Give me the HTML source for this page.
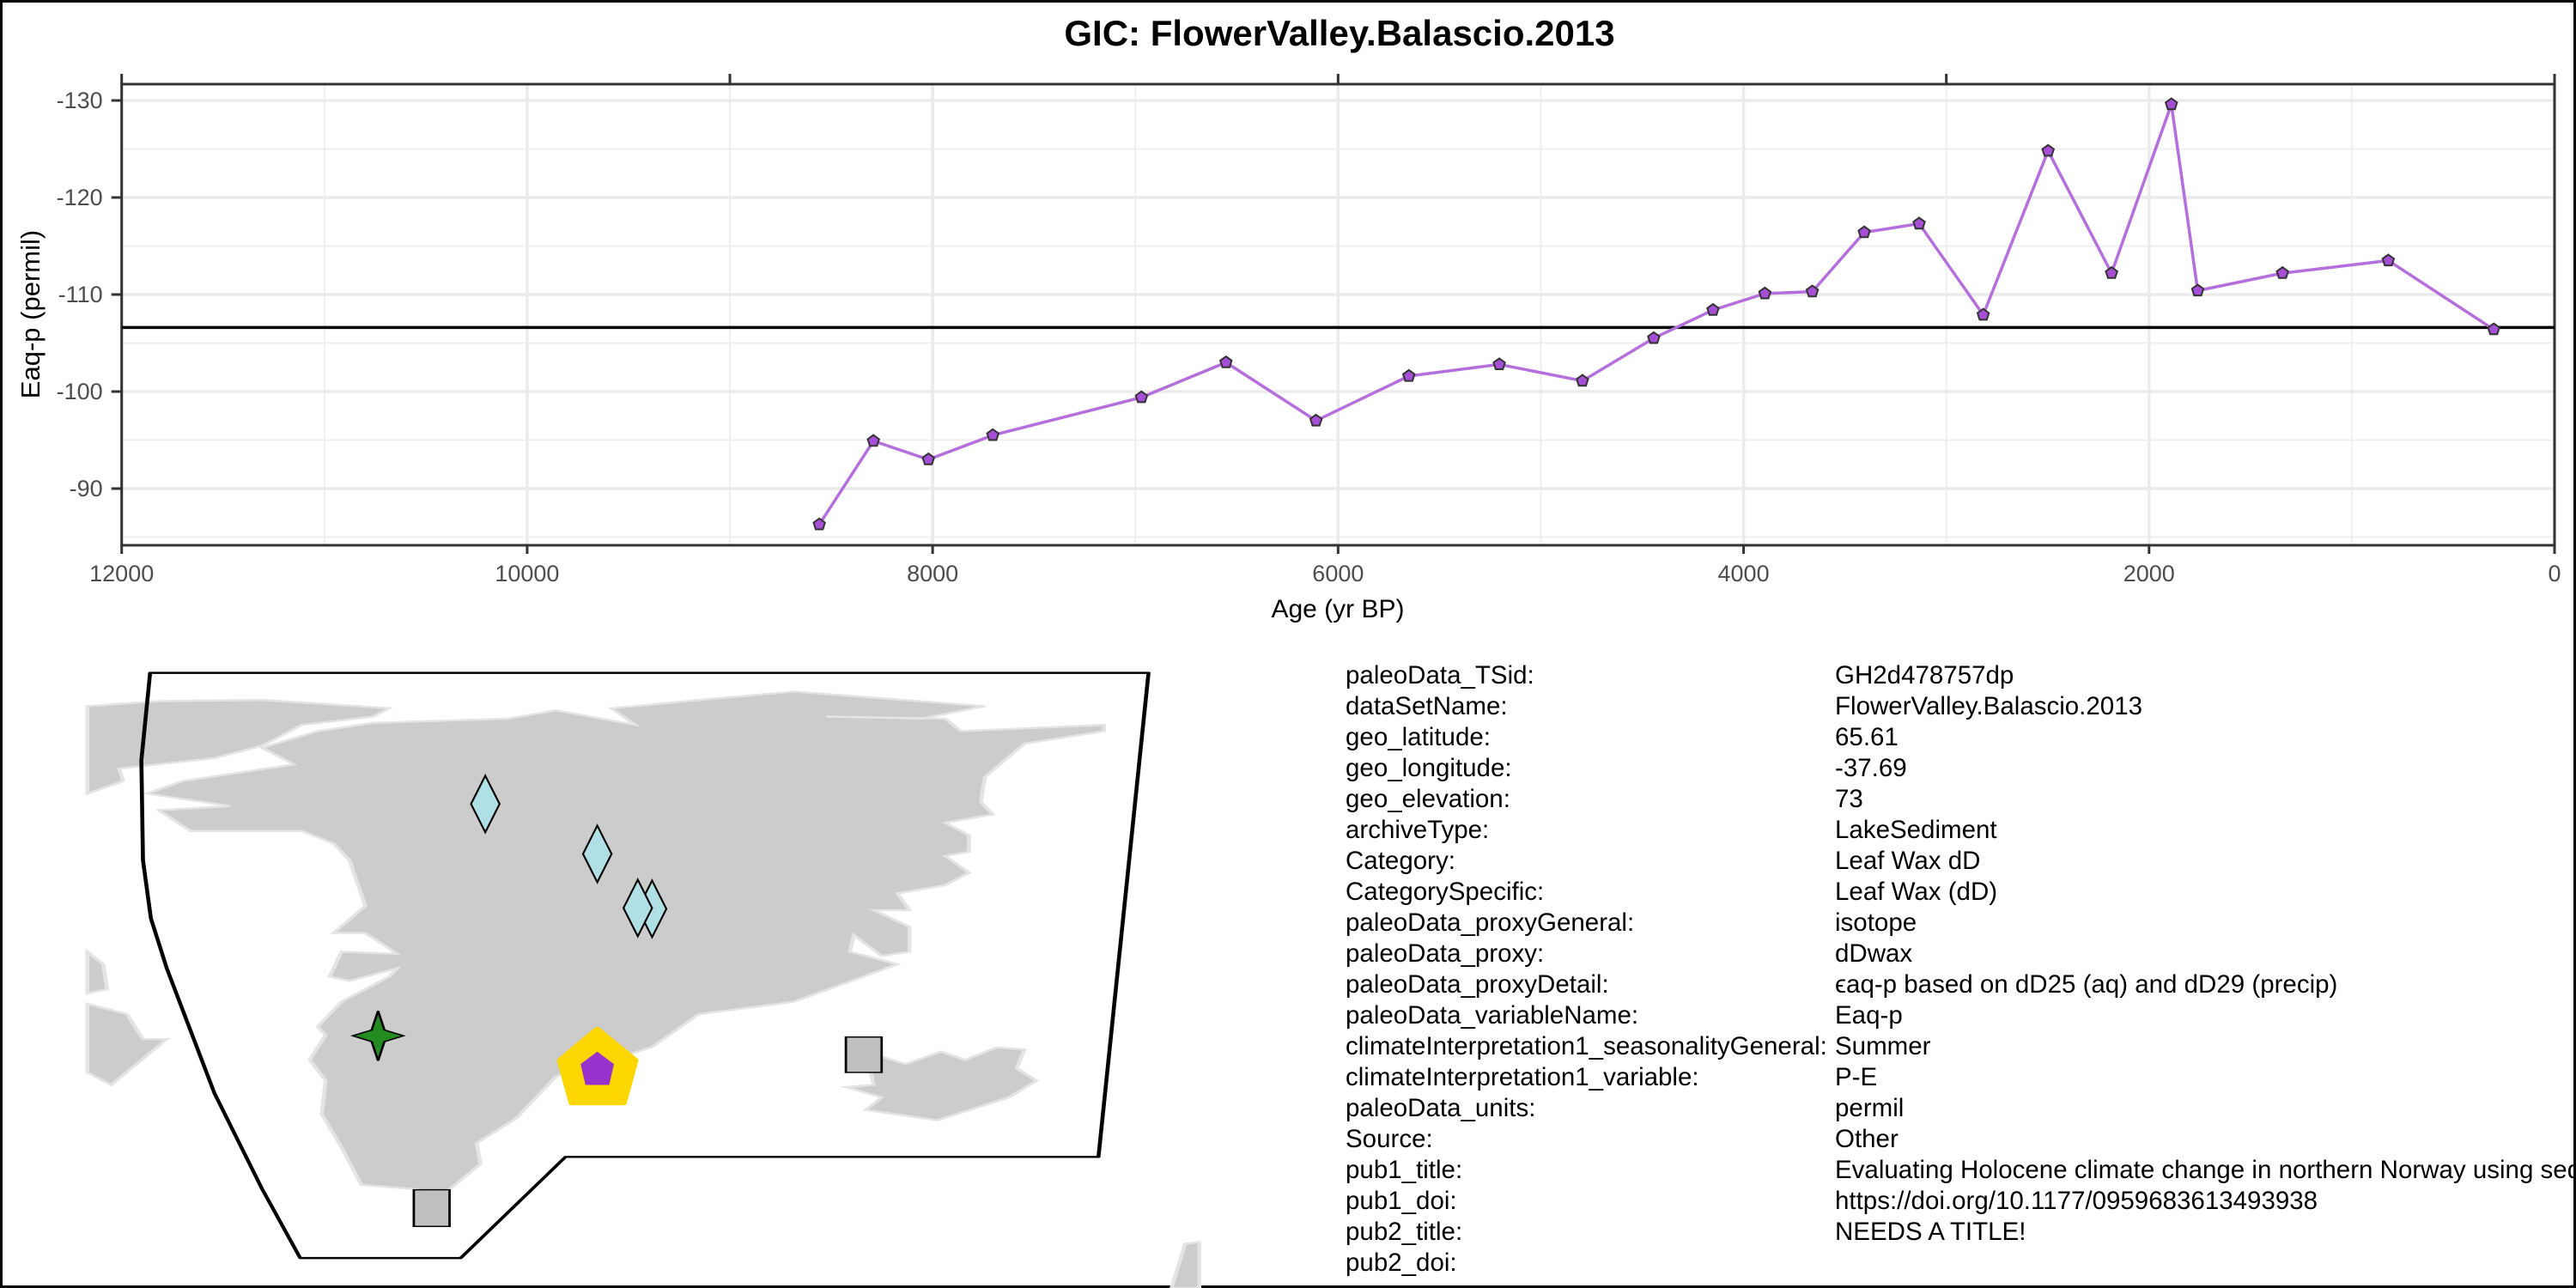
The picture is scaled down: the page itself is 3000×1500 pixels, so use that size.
<!DOCTYPE html>
<html><head><meta charset="utf-8">
<style>
html,body{margin:0;padding:0;background:#fff;}
svg{display:block;font-family:"Liberation Sans",Arial,sans-serif;}
</style></head>
<body>
<svg id="root" width="3000" height="1500" viewBox="0 0 3000 1500" xmlns="http://www.w3.org/2000/svg">
<rect x="1.5" y="1.5" width="2997" height="1497" fill="#fff" stroke="#000" stroke-width="3"/>
<text x="1560" y="53" text-anchor="middle" font-size="42" font-weight="bold" fill="#000">GIC: FlowerValley.Balascio.2013</text>
<g id="grid"></g>
<g id="axes"></g>
<g id="series"></g>
<text x="1558" y="719" text-anchor="middle" font-size="30" fill="#000">Age (yr BP)</text>
<text transform="translate(46,366) rotate(-90)" text-anchor="middle" font-size="31" fill="#000">Eaq-p (permil)</text>

<g transform="translate(0,740) scale(0.925,0.4847)">
 <g fill="#cccccc" stroke="#e4e4e4" stroke-width="5">
  <polygon points="470,210 640,200 700,180 800,215 770,175 910,150 1000,135 1240,170 1160,200 1040,195 1190,200 1210,230 1390,215 1390,230 1290,260 1240,340 1235,400 1250,430 1190,450 1220,480 1220,520 1190,530 1220,570 1190,600 1130,620 1145,660 1100,660 1145,700 1145,760 1110,770 1075,720 1070,760 1130,790 1000,880 880,910 820,990 700,1060 650,1160 600,1220 605,1270 560,1340 520,1330 455,1320 430,1230 405,1150 410,1070 390,1020 410,960 400,940 430,880 490,820 500,800 440,830 415,820 430,760 500,765 460,715 420,715 460,650 440,540 420,500 380,470 240,470 200,420 290,410 185,380 230,350 370,310 330,270 400,230"/>
  <polygon points="110,170 200,158 330,155 490,175 470,195 380,215 330,265 270,295 150,320 155,350 110,380"/>
  <polygon points="110,760 130,790 135,850 110,860"/>
  <polygon points="110,885 160,910 180,970 210,970 140,1080 110,1050"/>
  <polygon points="1065,1085 1100,1080 1090,1000 1140,1030 1185,1000 1215,1020 1255,990 1290,995 1280,1040 1305,1070 1270,1110 1180,1165 1090,1140 1110,1110"/>
  <polygon points="1475,1568 1492,1462 1510,1458 1510,1568"/>
 </g>
 <polygon points="189,90 1446,90 1383,1253 712,1253 580,1496 378,1496 330,1330 270,1100 240,950 210,800 190,680 180,540 178,300" fill="none" stroke="#000" stroke-width="5" stroke-linejoin="round"/>
 <g fill="#b0e0e6" stroke="#000" stroke-width="2.5">
  <polygon points="611,337 629,405 611,473 593,405"/>
  <polygon points="752,457 770,525 752,593 734,525"/>
  <polygon points="821,589 839,657 821,725 803,657"/>
  <polygon points="803,587 821,655 803,723 785,655"/>
 </g>
 <polygon points="476,902 484,948 508,962 484,976 476,1022 468,976 444,962 468,948" fill="#228b22" stroke="#000" stroke-width="3"/>
 <polygon points="752,945 800,1020 785,1125 720,1125 705,1020" fill="#ffd700" stroke="#ffd700" stroke-width="8" stroke-linejoin="round"/>
 <polygon points="752,1000 773,1030 767,1080 737,1080 731,1030" fill="#9932cc"/>
 <rect x="521" y="1332" width="45" height="88" fill="#c0c0c0" stroke="#000" stroke-width="3"/>
 <rect x="1065" y="965" width="45" height="85" fill="#c0c0c0" stroke="#000" stroke-width="3"/>
</g>

<g id="meta" font-size="29.5" fill="#000"></g>
</svg>
<script>
const ages = [8559,8292,8021,7703,6970,6553,6109,5651,5205,4795,4443,4151,3895,3661,3405,3134,2818,2498,2185,1890,1760,1342,820,300];
const values = [-86.3,-94.9,-93.0,-95.5,-99.4,-103.0,-97.0,-101.6,-102.8,-101.1,-105.5,-108.4,-110.1,-110.3,-116.4,-117.3,-107.9,-124.8,-112.2,-129.6,-110.4,-112.2,-113.5,-106.4];
const refLine = [-106.6];
const xTicks = [12000,10000,8000,6000,4000,2000,0];
const xMinor = [11000,9000,7000,5000,3000,1000];
const xTopTicks = [12000,9000,6000,3000,0];
const yTicks = [-130,-120,-110,-100,-90];
const yMinor = [-125,-115,-105,-95,-85];
const metaKeys = ["paleoData_TSid:","dataSetName:","geo_latitude:","geo_longitude:","geo_elevation:","archiveType:","Category:","CategorySpecific:","paleoData_proxyGeneral:","paleoData_proxy:","paleoData_proxyDetail:","paleoData_variableName:","climateInterpretation1_seasonalityGeneral:","climateInterpretation1_variable:","paleoData_units:","Source:","pub1_title:","pub1_doi:","pub2_title:","pub2_doi:"];
const metaVals = ["GH2d478757dp","FlowerValley.Balascio.2013","65.61","-37.69","73","LakeSediment","Leaf Wax dD","Leaf Wax (dD)","isotope","dDwax","\u03f5aq-p based on dD25 (aq) and dD29 (precip)","Eaq-p","Summer","P-E","permil","Other","Evaluating Holocene climate change in northern Norway using sediment records from two contrasting lake systems","https://doi.org/10.1177/0959683613493938","NEEDS A TITLE!",""];

const NS="http://www.w3.org/2000/svg";
const L=141.7,R=2975,T=98,B=635;
const X=a=>L+(12000-a)*(R-L)/12000;
const Y=v=>117+(v+130)*11.3;
function mk(tag,attrs,parent){const e=document.createElementNS(NS,tag);for(const k in attrs)e.setAttribute(k,attrs[k]);parent.appendChild(e);return e;}
const grid=document.getElementById('grid'),axes=document.getElementById('axes'),series=document.getElementById('series');

xMinor.forEach(a=>{const e=mk('line',{x1:X(a),x2:X(a),y1:T,y2:B,stroke:'#efefef','stroke-width':2},grid);

});
yMinor.forEach(v=>{const e=mk('line',{x1:L,x2:R,y1:Y(v),y2:Y(v),stroke:'#efefef','stroke-width':2},grid);

});
xTicks.forEach(a=>{const e=mk('line',{x1:X(a),x2:X(a),y1:T,y2:B,stroke:'#ebebeb','stroke-width':3.5},grid);

});
yTicks.forEach(v=>{const e=mk('line',{x1:L,x2:R,y1:Y(v),y2:Y(v),stroke:'#ebebeb','stroke-width':3.5},grid);

});

const frame=mk('rect',{x:L,y:T,width:R-L,height:B-T,fill:'none',stroke:'#333','stroke-width':3},axes);


xTicks.forEach(a=>{
 const t=mk('line',{x1:X(a),x2:X(a),y1:B,y2:B+10,stroke:'#333','stroke-width':3},axes);
 
 
 const l=mk('text',{x:X(a),y:B+42,'text-anchor':'middle','font-size':27,fill:'#4d4d4d'},axes);
 l.textContent=a;
 
 
});
xTopTicks.forEach(a=>{
 const t=mk('line',{x1:X(a),x2:X(a),y1:T-12,y2:T,stroke:'#333','stroke-width':3},axes);
 
 
});
yTicks.forEach(v=>{
 const t=mk('line',{x1:L-12,x2:L,y1:Y(v),y2:Y(v),stroke:'#333','stroke-width':3},axes);
 
 
 const l=mk('text',{x:L-22,y:Y(v)+9,'text-anchor':'end','font-size':27,fill:'#4d4d4d'},axes);
 l.textContent=v;
 
 
});
const hl=mk('line',{x1:L,x2:R,y1:Y(refLine[0]),y2:Y(refLine[0]),stroke:'#000','stroke-width':3.5},series);


const pl=mk('polyline',{points:ages.map((a,i)=>X(a)+','+Y(values[i])).join(' '),fill:'none',stroke:'#b56fdc','stroke-width':3.5},series);


ages.forEach((a,i)=>{
 const cx=X(a),cy=Y(values[i]),r=7;
 const pts=[0,1,2,3,4].map(k=>{const ang=-Math.PI/2+k*2*Math.PI/5;return (cx+r*Math.cos(ang)).toFixed(1)+','+(cy+r*Math.sin(ang)).toFixed(1);}).join(' ');
 const p=mk('polygon',{points:pts,fill:'#a64fd6',stroke:'#333','stroke-width':2},series);
 
 
});
const meta=document.getElementById('meta');
metaKeys.forEach((k,i)=>{
 const y=796+i*36;
 const a=mk('text',{x:1567,y:y},meta);a.textContent=k;
 
 
 const b=mk('text',{x:2137,y:y},meta);b.textContent=metaVals[i];
 
 
});
</script>
</body></html>
